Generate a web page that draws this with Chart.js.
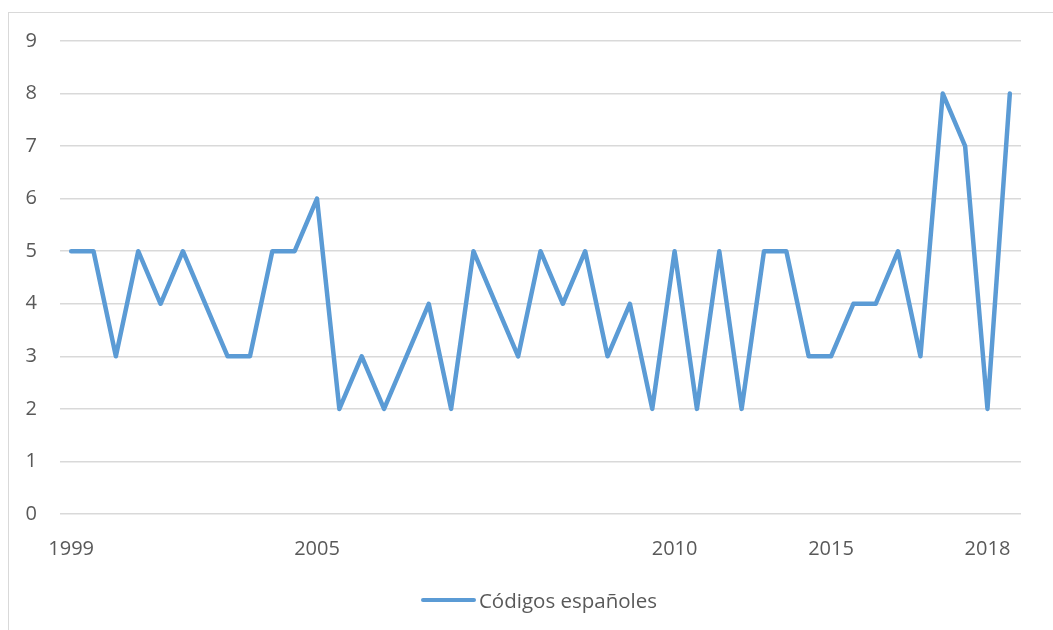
<!DOCTYPE html>
<html>
<head>
<meta charset="utf-8">
<script src="https://cdn.jsdelivr.net/npm/chart.js@4/dist/chart.umd.min.js"></script>
<style>
html,body{margin:0;padding:0;background:#fff;overflow:hidden;width:1053px;height:630px;}
#frame{position:absolute;left:8px;top:12px;width:2000px;height:2000px;border:1px solid #d9d9d9;}
#wrap{position:absolute;left:0;top:0;width:1053px;height:630px;}
#legend{position:absolute;left:0;top:586px;width:1078px;height:28px;display:flex;justify-content:center;align-items:center;font-family:'Open Sans',sans-serif;font-size:20.5px;color:#595959;}
#legend .sw{width:55px;height:4.5px;border-radius:3px;background:#5B9BD5;margin-right:3px;}
</style>
</head>
<body>
<div id="frame"></div>
<div id="wrap"><canvas id="c" width="1053" height="630"></canvas></div>
<div id="legend"><span class="sw"></span><span id="legtxt"></span></div>
<script>
const categories = ['1999','','','','','','','','','','','2005','','','','','','','','','','','','','','','','2010','','','','','','','2015','','','','','','','2018',''];
const seriesName = 'Códigos españoles';
const values = [5,5,3,5,4,5,4,3,3,5,5,6,2,3,2,3,4,2,5,4,3,5,4,5,3,4,2,5,2,5,2,5,5,3,3,4,4,5,3,8,7,2,8];
const yTicks = [0,1,2,3,4,5,6,7,8,9];

const FONT = "'Open Sans', sans-serif";
const TXT = '#595959';

document.getElementById('legtxt').textContent = seriesName;

new Chart(document.getElementById('c'), {
  type: 'line',
  data: {
    labels: categories,
    datasets: [{
      label: seriesName,
      data: values,
      borderColor: '#5B9BD5',
      backgroundColor: '#5B9BD5',
      borderWidth: 4.5,
      pointRadius: 0,
      pointHoverRadius: 0,
      tension: 0,
      borderJoinStyle: 'round',
      borderCapStyle: 'round',
      fill: false
    }]
  },
  options: {
    responsive: false,
    animation: false,
    layout: { padding: { left: 0, right: 32, top: 41, bottom: 50 } },
    plugins: {
      tooltip: { enabled: false },
      legend: { display: false }
    },
    scales: {
      x: {
        type: 'category',
        offset: true,
        grid: { display: false, drawTicks: false },
        border: { display: false },
        ticks: {
          autoSkip: false,
          maxRotation: 0,
          minRotation: 0,
          padding: 23,
          color: TXT,
          font: { family: FONT, size: 20 }
        },
        afterFit: s => { s.height = 66; }
      },
      y: {
        min: 0,
        max: 9,
        afterBuildTicks: s => { s.ticks = yTicks.map(v => ({ value: v })); },
        grid: { color: '#d9d9d9', lineWidth: 1.5, drawTicks: false },
        border: { display: false },
        ticks: {
          padding: 23,
          color: TXT,
          font: { family: FONT, size: 20 }
        },
        afterFit: s => { s.width = 60; }
      }
    }
  }
});
</script>
</body>
</html>
